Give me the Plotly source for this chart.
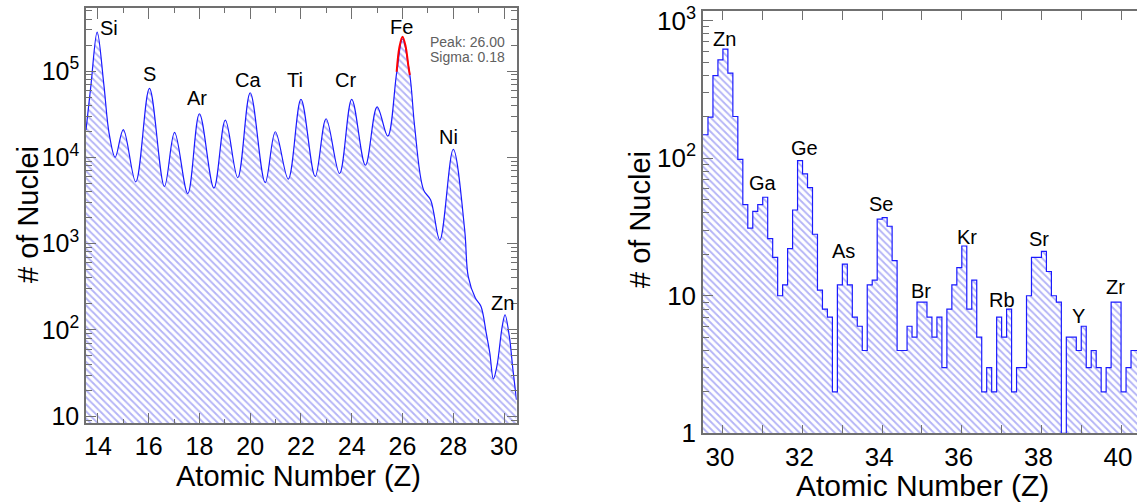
import numpy as np
import plotly.graph_objects as go

# ---------------- Left panel data (smooth Z spectrum) ----------------
z_left = [13.53, 13.73, 13.97, 14.23, 14.44, 14.68, 15.0, 15.49, 16.03, 16.62, 17.02, 17.54,
          18.0, 18.57, 19.02, 19.51, 20.0, 20.59, 20.99, 21.5, 22.0, 22.56, 22.99, 23.52,
          24.0, 24.54, 25.0, 25.42, 25.77, 26.0, 26.29, 26.48, 26.83, 27.11, 27.47, 28.0,
          28.45, 28.59, 28.87, 29.09, 29.3, 29.44, 29.58, 29.72, 29.93, 30.04, 30.21, 30.35, 30.49]
counts_left = [2.07e4, 7.1e4, 2.83e5, 7.1e4, 1.9e4, 1.0e4, 2.1e4, 5.2e3, 6.3e4, 4.6e3, 1.95e4, 3.8e3,
               3.2e4, 4.4e3, 2.7e4, 5.8e3, 5.6e4, 5.1e3, 1.98e4, 5.6e3, 4.7e4, 6.0e3, 2.8e4, 6.5e3,
               4.7e4, 8.1e3, 3.85e4, 1.76e4, 9.5e4, 2.35e5, 9.0e4, 2.26e4, 4.2e3, 3.2e3, 1.1e3, 1.24e4,
               1.45e3, 417, 234, 188, 92, 54, 27, 38, 110, 150, 84, 35, 15.5]

# Gaussian fit overlay on the Fe peak
fit_z = [25.77, 25.88, 26.0, 26.12, 26.24, 26.29]
fit_counts = [9.8e4, 1.9e5, 2.5e5, 1.95e5, 1.1e5, 9.0e4]
fit_peak = 26.00
fit_sigma = 0.18

left_labels = ["Si", "S", "Ar", "Ca", "Ti", "Cr", "Fe", "Ni", "Zn"]
left_label_z = [14.45, 16.03, 17.9, 19.93, 21.76, 23.76, 25.96, 27.82, 29.93]
left_label_counts = [3.13e5, 9.2e4, 4.83e4, 7.87e4, 7.87e4, 7.87e4, 3.2e5, 1.71e4, 207]

# ---------------- Right panel data (binned histogram) ----------------
right_bin_start = 29.5
right_bin_width = 0.125
right_counts = [148, 199, 398, 519, 621, 415, 201, 98, 46, 31, 41, 46, 52, 26, 19, 10,
                12, 22, 42, 96, 77, 61, 28, 11, 8, 7, 2, 12, 17, 12, 7, 6,
                4, 12, 13, 36, 37, 32, 18, 4, 4, 6, 5, 9, 9, 7, 5, 7,
                3, 8, 12, 16, 23, 8, 13, 5, 2, 3, 2, 7, 5, 8, 2, 3,
                3, 10, 19, 19, 21, 15, 10, 9, 1, 5, 5, 4, 6, 3, 4, 3,
                2, 3, 9, 9, 2, 3, 4, 4]

right_labels = ["Zn", "Ga", "Ge", "As", "Se", "Br", "Kr", "Rb", "Sr", "Y", "Zr"]
right_label_z = [30.04, 31.01, 32.06, 33.04, 33.97, 34.98, 36.12, 37.0, 37.95, 38.94, 39.86]
right_label_counts = [738, 65.8, 118, 21.3, 46.6, 10.9, 26.6, 9.3, 25.8, 7.1, 11.5]

left_ytick_vals = [10, 100, 1000, 10000, 100000]
left_ytick_text = ["10", "10<sup>2</sup>", "10<sup>3</sup>", "10<sup>4</sup>", "10<sup>5</sup>"]
right_ytick_vals = [1, 10, 100, 1000]
right_ytick_text = ["1", "10", "10<sup>2</sup>", "10<sup>3</sup>"]
left_xticks = [14, 16, 18, 20, 22, 24, 26, 28, 30]
right_xticks = [30, 32, 34, 36, 38, 40]

# ---------------- Figure ----------------
W, H = 1137, 502
FONT = "Liberation Sans, Arial, Helvetica, sans-serif"
LINE_BLUE = "#1a1aff"
HATCH = dict(shape="\\", fgcolor="#6a6aee", bgcolor="white", size=5, solidity=0.38)
FRAME = "#707070"

fig = go.Figure()

fig.add_trace(go.Scatter(
    x=z_left, y=counts_left, mode="lines",
    line=dict(color=LINE_BLUE, width=1.2, shape="spline", smoothing=1.0),
    fill="tozeroy", fillpattern=HATCH, fillcolor="white",
    xaxis="x", yaxis="y", showlegend=False, hoverinfo="skip"))

fig.add_trace(go.Scatter(
    x=fit_z, y=fit_counts, mode="lines",
    line=dict(color="#ff0000", width=2, shape="spline"),
    xaxis="x", yaxis="y", showlegend=False, hoverinfo="skip"))

edges = [right_bin_start + i * right_bin_width for i in range(len(right_counts) + 1)]
step_y = right_counts + [right_counts[-1]]
fig.add_trace(go.Scatter(
    x=edges, y=step_y, mode="lines",
    line=dict(color=LINE_BLUE, width=1.2, shape="hv"),
    fill="tozeroy", fillpattern=HATCH, fillcolor="white",
    xaxis="x2", yaxis="y2", showlegend=False, hoverinfo="skip"))


def px_x(p):
    return p / W


def px_y(p):
    return (H - p) / H


tickfont_l = dict(family=FONT, size=25, color="black")
tickfont_r = dict(family=FONT, size=26, color="black")

common = dict(automargin=False, ticklabeloverflow="allow", showgrid=False, zeroline=False,
              showline=True, linecolor=FRAME, linewidth=1.5, tickwidth=1, tickcolor=FRAME,
              ticks="inside", tickmode="array")

fig.update_layout(
    width=W, height=H,
    margin=dict(l=0, r=0, t=0, b=0, autoexpand=False),
    paper_bgcolor="white", plot_bgcolor="white",
    font=dict(family=FONT, color="black"),
    xaxis=dict(domain=[px_x(86), px_x(516.7)], range=[13.53, 30.5],
               tickvals=left_xticks, ticktext=[str(v) for v in left_xticks], ticklen=11,
               minor=dict(ticks="inside", ticklen=5, dtick=1, tick0=13, tickcolor=FRAME),
               mirror="ticks", tickfont=tickfont_l, anchor="y", **common),
    yaxis=dict(domain=[px_y(423.3), px_y(8.3)], type="log", range=[0.918, 5.727],
               tickvals=left_ytick_vals, ticktext=left_ytick_text, ticklen=10,
               minor=dict(ticks="inside", ticklen=6, dtick="D1", tickcolor=FRAME),
               mirror="ticks", tickfont=tickfont_l, anchor="x", **common),
    xaxis2=dict(domain=[px_x(703), 1.0], range=[29.5, 40.4],
                tickvals=right_xticks, ticktext=[str(v) for v in right_xticks], ticklen=9,
                minor=dict(ticks="inside", ticklen=9, dtick=1, tick0=29, tickcolor=FRAME),
                mirror="ticks", tickfont=tickfont_r, anchor="y2", ticklabelshift=-3, **common),
    yaxis2=dict(domain=[px_y(433.3), px_y(11)], type="log", range=[0, 3.07],
                tickvals=right_ytick_vals, ticktext=right_ytick_text, ticklen=10,
                minor=dict(ticks="inside", ticklen=6, dtick="D1", tickcolor=FRAME),
                mirror=False, tickfont=tickfont_r, anchor="x2", **common),
)

ann = []
for t, z, c in zip(left_labels, left_label_z, left_label_counts):
    ann.append(dict(xref="x", yref="y", x=z, y=np.log10(c), text=t, showarrow=False,
                    font=dict(family=FONT, size=20, color="black"),
                    xanchor="center", yanchor="middle"))
for t, z, c in zip(right_labels, right_label_z, right_label_counts):
    ann.append(dict(xref="x2", yref="y2", x=z, y=np.log10(c), text=t, showarrow=False,
                    font=dict(family=FONT, size=20, color="black"),
                    xanchor="center", yanchor="middle"))
ann.append(dict(xref="x", yref="y", x=27.02, y=5.34, text="Peak: %.2f" % fit_peak,
                showarrow=False, xanchor="left", yanchor="middle",
                font=dict(family=FONT, size=14, color="#606060")))
ann.append(dict(xref="x", yref="y", x=27.02, y=5.159, text="Sigma: %.2f" % fit_sigma,
                showarrow=False, xanchor="left", yanchor="middle",
                font=dict(family=FONT, size=14, color="#606060")))
# axis titles
ann.append(dict(xref="paper", yref="paper", x=px_x(298), y=px_y(476), text="Atomic Number (Z)",
                showarrow=False, xanchor="center", yanchor="middle",
                font=dict(family=FONT, size=29, color="black")))
ann.append(dict(xref="paper", yref="paper", x=px_x(922), y=px_y(485), text="Atomic Number (Z)",
                showarrow=False, xanchor="center", yanchor="middle",
                font=dict(family=FONT, size=30, color="black")))
ann.append(dict(xref="paper", yref="paper", x=px_x(28), y=px_y(215), text="# of Nuclei",
                showarrow=False, xanchor="center", yanchor="middle", textangle=-90,
                font=dict(family=FONT, size=29, color="black")))
ann.append(dict(xref="paper", yref="paper", x=px_x(640), y=px_y(220), text="# of Nuclei",
                showarrow=False, xanchor="center", yanchor="middle", textangle=-90,
                font=dict(family=FONT, size=29, color="black")))
fig.update_layout(annotations=ann)

# remove the default page margin so the figure fills the 1137x502 window exactly
fig.write_html("out.html", config={"displayModeBar": False},
               post_script="document.body.style.margin='0px';document.body.style.overflow='hidden';")
